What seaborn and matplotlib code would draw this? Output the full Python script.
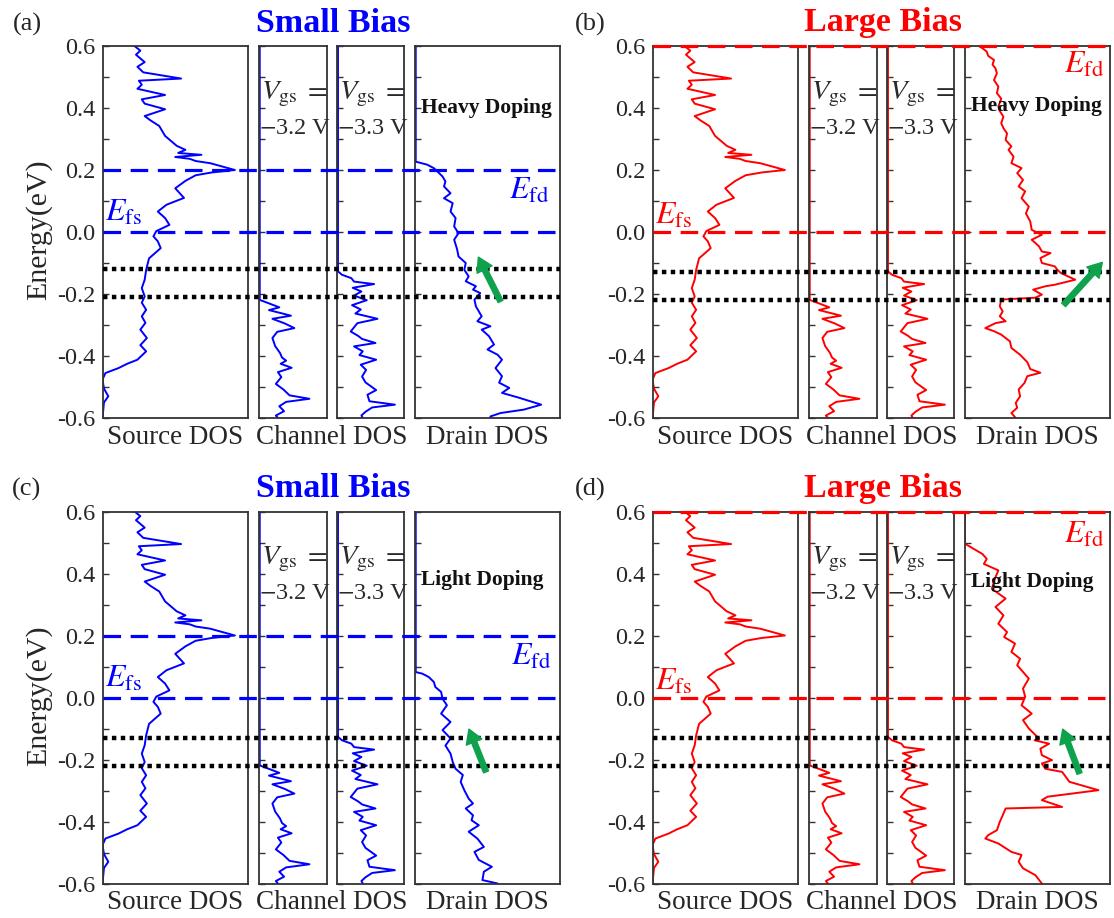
import numpy as np
import matplotlib
matplotlib.use('Agg')
import matplotlib.pyplot as plt
import seaborn as sns

# ---- data (energy in eV, DOS in arbitrary units: fraction of panel width) ----
src_energy = [0.600, 0.585, 0.572, 0.548, 0.533, 0.515, 0.495, 0.488, 0.475, 0.462,
              0.442, 0.428, 0.414, 0.396, 0.374, 0.360, 0.342, 0.310, 0.298, 0.278,
              0.265, 0.255, 0.249, 0.242, 0.236, 0.229, 0.222, 0.200, 0.192, 0.183,
              0.165, 0.141, 0.110, 0.088, 0.066, 0.045, 0.023, 0.003, -0.014, -0.030,
              -0.052, -0.085, -0.122, -0.154, -0.181, -0.208, -0.228, -0.251, -0.272, -0.293,
              -0.315, -0.342, -0.365, -0.385, -0.412, -0.425, -0.439, -0.455, -0.476, -0.505,
              -0.530, -0.550, -0.600]
src_dos = [0.22, 0.26, 0.23, 0.29, 0.24, 0.28, 0.54, 0.25, 0.27, 0.24,
           0.43, 0.27, 0.29, 0.43, 0.29, 0.33, 0.39, 0.43, 0.46, 0.51,
           0.57, 0.52, 0.68, 0.50, 0.60, 0.64, 0.74, 0.91, 0.75, 0.64,
           0.57, 0.50, 0.56, 0.44, 0.38, 0.43, 0.46, 0.37, 0.35, 0.38,
           0.40, 0.32, 0.30, 0.29, 0.27, 0.29, 0.27, 0.30, 0.27, 0.295,
           0.26, 0.305, 0.26, 0.30, 0.24, 0.17, 0.11, 0.02, 0.0, 0.01,
           0.04, 0.01, 0.0]

ch1_energy = [0.600, -0.219, -0.232, -0.243, -0.252, -0.262, -0.270, -0.280, -0.295, -0.310,
              -0.322, -0.342, -0.368, -0.390, -0.405, -0.415, -0.425, -0.438, -0.452, -0.468,
              -0.490, -0.508, -0.527, -0.538, -0.548, -0.562, -0.578, -0.592, -0.600]
ch1_dos = [0.015, 0.015, 0.17, 0.30, 0.15, 0.33, 0.47, 0.20, 0.38, 0.52,
           0.27, 0.20, 0.24, 0.31, 0.34, 0.40, 0.32, 0.48, 0.28, 0.33,
           0.25, 0.36, 0.45, 0.74, 0.40, 0.30, 0.37, 0.25, 0.28]

ch2_energy = [0.600, -0.127, -0.138, -0.149, -0.160, -0.168, -0.180, -0.192, -0.205, -0.220,
              -0.236, -0.250, -0.263, -0.280, -0.294, -0.321, -0.335, -0.345, -0.358, -0.369,
              -0.385, -0.397, -0.412, -0.428, -0.445, -0.466, -0.485, -0.510, -0.525, -0.546,
              -0.557, -0.566, -0.580, -0.592, -0.600]
ch2_dos = [0.01, 0.01, 0.07, 0.21, 0.25, 0.55, 0.23, 0.36, 0.25, 0.44,
           0.22, 0.35, 0.27, 0.60, 0.30, 0.20, 0.31, 0.37, 0.57, 0.25,
           0.38, 0.33, 0.58, 0.35, 0.43, 0.37, 0.42, 0.58, 0.45, 0.48,
           0.86, 0.52, 0.42, 0.36, 0.38]

# (a) heavy doping, small bias
drain_a_energy = [0.600, 0.227, 0.217, 0.206, 0.195, 0.179, 0.163, 0.147, 0.125, 0.109,
                  0.093, 0.066, 0.045, 0.018, -0.004, -0.025, -0.055, -0.079, -0.100, -0.122,
                  -0.143, -0.159, -0.175, -0.186, -0.197, -0.218, -0.240, -0.272, -0.288, -0.304,
                  -0.315, -0.336, -0.363, -0.379, -0.396, -0.412, -0.439, -0.465, -0.486, -0.503,
                  -0.519, -0.535, -0.557, -0.573, -0.584, -0.595, -0.600]
drain_a_dos = [0.005, 0.005, 0.085, 0.13, 0.155, 0.19, 0.21, 0.20, 0.245, 0.20,
               0.26, 0.245, 0.28, 0.27, 0.30, 0.27, 0.29, 0.30, 0.35, 0.34,
               0.37, 0.35, 0.42, 0.40, 0.45, 0.41, 0.42, 0.46, 0.43, 0.52,
               0.46, 0.51, 0.545, 0.50, 0.57, 0.60, 0.555, 0.60, 0.58, 0.65,
               0.60, 0.72, 0.87, 0.75, 0.59, 0.52, 0.52]

# (b) heavy doping, large bias
drain_b_energy = [0.600, 0.582, 0.568, 0.555, 0.540, 0.528, 0.512, 0.490, 0.469, 0.448,
                  0.430, 0.405, 0.390, 0.372, 0.351, 0.335, 0.318, 0.297, 0.276, 0.265,
                  0.243, 0.222, 0.206, 0.190, 0.168, 0.147, 0.131, 0.109, 0.082, 0.060,
                  0.034, 0.007, -0.009, -0.025, -0.046, -0.063, -0.068, -0.084, -0.100, -0.111,
                  -0.121, -0.132, -0.154, -0.170, -0.175, -0.186, -0.202, -0.212, -0.218, -0.240,
                  -0.256, -0.272, -0.288, -0.294, -0.310, -0.320, -0.331, -0.353, -0.374, -0.396,
                  -0.420, -0.442, -0.454, -0.465, -0.487, -0.508, -0.530, -0.551, -0.567, -0.584,
                  -0.600]
drain_b_dos = [0.10, 0.15, 0.16, 0.20, 0.19, 0.21, 0.22, 0.20, 0.23, 0.22,
               0.25, 0.23, 0.24, 0.265, 0.25, 0.265, 0.29, 0.28, 0.32, 0.30,
               0.335, 0.32, 0.39, 0.36, 0.40, 0.37, 0.415, 0.39, 0.44, 0.42,
               0.45, 0.46, 0.53, 0.46, 0.51, 0.53, 0.59, 0.52, 0.53, 0.62,
               0.635, 0.66, 0.76, 0.62, 0.555, 0.47, 0.53, 0.485, 0.25, 0.24,
               0.26, 0.24, 0.28, 0.21, 0.14, 0.20, 0.25, 0.31, 0.32, 0.38,
               0.43, 0.45, 0.52, 0.43, 0.41, 0.37, 0.38, 0.35, 0.36, 0.32,
               0.35]

# (c) light doping, small bias
drain_c_energy = [0.600, 0.082, 0.077, 0.066, 0.050, 0.034, 0.018, -0.004, -0.025, -0.052,
                  -0.079, -0.105, -0.132, -0.155, -0.181, -0.208, -0.230, -0.250, -0.272, -0.299,
                  -0.326, -0.342, -0.358, -0.380, -0.396, -0.412, -0.433, -0.455, -0.482, -0.498,
                  -0.524, -0.546, -0.562, -0.589, -0.600]
drain_c_dos = [0.005, 0.005, 0.05, 0.095, 0.13, 0.14, 0.18, 0.19, 0.22, 0.18,
               0.245, 0.19, 0.245, 0.21, 0.245, 0.26, 0.28, 0.33, 0.315, 0.34,
               0.37, 0.40, 0.35, 0.40, 0.39, 0.44, 0.37, 0.43, 0.475, 0.41,
               0.44, 0.53, 0.475, 0.465, 0.57]

# (d) light doping, large bias
drain_d_energy = [0.600, 0.496, 0.474, 0.463, 0.447, 0.431, 0.410, 0.388, 0.351, 0.319,
                  0.292, 0.265, 0.238, 0.211, 0.195, 0.174, 0.147, 0.125, 0.104, 0.061,
                  0.029, 0.002, -0.025, -0.052, -0.073, -0.100, -0.132, -0.138, -0.149, -0.165,
                  -0.186, -0.202, -0.213, -0.230, -0.240, -0.272, -0.299, -0.320, -0.331, -0.353,
                  -0.358, -0.380, -0.401, -0.428, -0.444, -0.455, -0.471, -0.498, -0.508, -0.530,
                  -0.551, -0.573, -0.600]
drain_d_dos = [0.0, 0.0, 0.08, 0.12, 0.15, 0.13, 0.23, 0.21, 0.185, 0.28,
               0.21, 0.265, 0.23, 0.29, 0.27, 0.345, 0.32, 0.38, 0.36, 0.44,
               0.40, 0.415, 0.39, 0.46, 0.40, 0.44, 0.51, 0.48, 0.58, 0.52,
               0.53, 0.60, 0.53, 0.555, 0.67, 0.72, 0.92, 0.57, 0.53, 0.67,
               0.28, 0.26, 0.24, 0.22, 0.16, 0.14, 0.23, 0.32, 0.39, 0.37,
               0.40, 0.485, 0.53]

energy_ticks = [-0.6, -0.4, -0.2, 0.0, 0.2, 0.4, 0.6]

# ---- style ----
sns.set_style('ticks')
plt.rcParams['font.family'] = ['Liberation Serif', 'DejaVu Serif']
plt.rcParams['mathtext.fontset'] = 'stix'
plt.rcParams['axes.unicode_minus'] = False

W, H = 1114, 918
fig = plt.figure(figsize=(W / 100, H / 100), dpi=100)
fig.patch.set_facecolor('white')


def box(x0, x1, y0, y1):
    return [x0 / W, 1 - y1 / H, (x1 - x0) / W, (y1 - y0) / H]


green = '#0ea24c'
panels = [
    dict(tag='(a)', dx=0, top=46, color='blue', title='Small Bias', doping='Heavy Doping',
         dashed=[0.2, 0.0], dotted=[-0.12, -0.21], drain=(drain_a_dos, drain_a_energy),
         efd=(0.65, 0.106), efs=(0.02, 0.035), arrow=((0.59, -0.224), (0.437, -0.081)),
         dop_y=0.40, ylabel=True),
    dict(tag='(b)', dx=550, top=46, color='red', title='Large Bias', doping='Heavy Doping',
         dashed=[0.6, 0.0], dotted=[-0.13, -0.22], drain=(drain_b_dos, drain_b_energy),
         efd=(0.68, 0.512), efs=(0.02, 0.025), arrow=((0.68, -0.235), (0.947, -0.098)),
         dop_y=0.405, ylabel=False),
    dict(tag='(c)', dx=0, top=511.5, color='blue', title='Small Bias', doping='Light Doping',
         dashed=[0.2, 0.0], dotted=[-0.13, -0.22], drain=(drain_c_dos, drain_c_energy),
         efd=(0.66, 0.104), efs=(0.02, 0.035), arrow=((0.49, -0.24), (0.372, -0.102)),
         dop_y=0.378, ylabel=True),
    dict(tag='(d)', dx=550, top=511.5, color='red', title='Large Bias', doping='Light Doping',
         dashed=[0.6, 0.0], dotted=[-0.13, -0.22], drain=(drain_d_dos, drain_d_energy),
         efd=(0.68, 0.50), efs=(0.02, 0.025), arrow=((0.79, -0.245), (0.674, -0.102)),
         dop_y=0.372, ylabel=False),
]

cols = [(102.5, 248), (258.7, 327.3), (337.3, 404.3), (415, 560)]
spine_c = '#333333'

for p in panels:
    dx, top = p['dx'], p['top']
    bot = top + 372
    c = p['color']
    curves = [(src_dos, src_energy), (ch1_dos, ch1_energy), (ch2_dos, ch2_energy), p['drain']]
    axes = []
    for i, ((x0, x1), (xs, ys)) in enumerate(zip(cols, curves)):
        ax = fig.add_axes(box(x0 + dx, x1 + dx, top, bot))
        sns.lineplot(x=xs, y=ys, sort=False, estimator=None, ax=ax, color=c, lw=1.4)
        ax.set_xlim(0, 1)
        ax.set_ylim(-0.6, 0.6)
        ax.set_xticks([])
        ax.set_yticks(energy_ticks)
        ax.set_yticks(np.arange(-0.5, 0.6, 0.2), minor=True)
        ax.set_yticklabels([f'{t:.1f}' for t in energy_ticks])
        ax.tick_params(axis='y', which='both', direction='in', length=4, width=1.0,
                       color=spine_c, labelsize=17.5, pad=5, labelleft=(i == 0))
        ax.set_xlabel('')
        ax.set_ylabel('')
        for s in ax.spines.values():
            s.set_color(spine_c)
            s.set_linewidth(1.3)
        axes.append(ax)
    src, ch1, ch2, dr = axes

    # texts inside panels
    for ax, v in ((ch1, '3.2'), (ch2, '3.3')):
        ax.text(0.03, 0.445, r'$V_{\rm gs}\;=$', fontsize=20.5, va='center', color='#2a2a2a')
        ax.text(0.0, 0.335, r'$-$' + v + ' V', fontsize=17.5, va='center', color='#2a2a2a')
    dr.text(0.04, p['dop_y'], p['doping'], fontsize=15.5, fontweight='bold', va='center',
            color='#111111')
    dr.text(p['efd'][0], p['efd'][1], r'$E_{\rm fd}$', fontsize=23, color=c, va='baseline')
    src.text(p['efs'][0], p['efs'][1], r'$E_{\rm fs}$', fontsize=23, color=c, va='baseline')

    # overlay for reference lines spanning all sub-panels
    ov = fig.add_axes(box(cols[0][0] + dx, cols[3][1] + dx, top, bot), zorder=10)
    ov.set_xlim(0, 1)
    ov.set_ylim(-0.6, 0.6)
    ov.axis('off')
    for y in p['dashed']:
        ov.axhline(y, color=c, lw=2.3, ls=(0, (5.5, 3)), clip_on=False)
    for y in p['dotted']:
        ov.axhline(y, color='black', lw=3.2, ls=(0, (1, 1)), clip_on=False)
    (tx, ty), (hx, hy) = p['arrow']
    ov.annotate('', xy=(hx, hy), xytext=(tx, ty), xycoords=dr.transData, textcoords=dr.transData,
                arrowprops=dict(facecolor=green, edgecolor=green, width=3.8, headwidth=12,
                                headlength=10, shrink=0))

    # outside labels
    mid_ch = (cols[1][0] + cols[2][1]) / 2 + dx
    fig.text((sum(cols[0]) / 2 + dx) / W, 1 - (bot + 19) / H, 'Source DOS', fontsize=19.5,
             ha='center', va='center')
    fig.text(mid_ch / W, 1 - (bot + 19) / H, 'Channel DOS', fontsize=19.5, ha='center', va='center')
    fig.text((sum(cols[3]) / 2 + dx) / W, 1 - (bot + 19) / H, 'Drain DOS', fontsize=19.5,
             ha='center', va='center')
    fig.text((mid_ch + 2) / W, 1 - (top - 23) / H, p['title'], fontsize=24.5, fontweight='bold',
             color=c, ha='center', va='center')
    fig.text((27 + dx * 1.025) / W, 1 - (top - 22) / H, p['tag'], fontsize=19, ha='center',
             va='center')
    if p['ylabel']:
        fig.text(39 / W, 1 - (top + 184) / H, 'Energy(eV)', fontsize=21.5, rotation=90,
                 ha='center', va='center')

fig.savefig('out.png', dpi=100, facecolor='white')
